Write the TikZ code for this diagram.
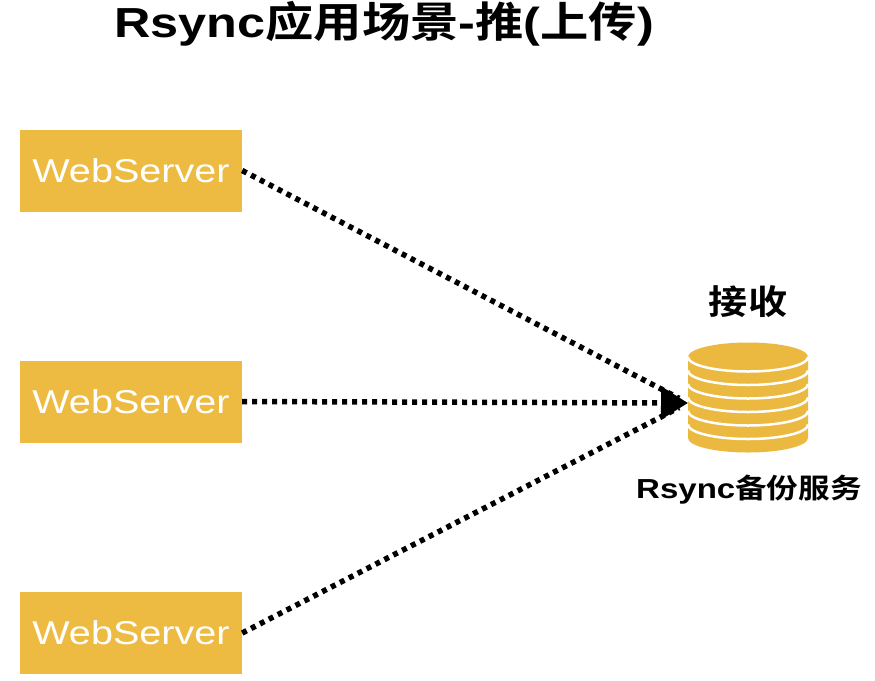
\documentclass[tikz,border=0pt]{standalone}
\usepackage{fontspec}
\setmainfont{Liberation Sans}[FakeStretch=1.2]
\newfontfamily\cjk{Noto Sans CJK SC}[BoldFont={Noto Sans CJK SC Bold},FakeStretch=1.15]
\usetikzlibrary{arrows.meta}
\definecolor{srvyellow}{RGB}{238,187,66}
\definecolor{dbyellow}{RGB}{236,185,64}

\begin{document}
\begin{tikzpicture}[x=1pt,y=-1pt,
  Server/.style = {fill=srvyellow, text=white, minimum width=222pt, minimum height=82pt,
                   inner sep=0pt, font=\fontsize{33}{33}\selectfont},
  Push/.style = {line width=5.5pt, dash pattern=on 5pt off 5pt, black}]
\useasboundingbox[fill=white] (0,0) rectangle (875,680);
\node[font=\fontsize{42}{42}\selectfont\bfseries] (title) at (384,24)
  {Rsync{\cjk 应用场景}-{\cjk 推}({\cjk 上传})};
\node[Server] (ws1) at (131,170.5) {WebServer};
\node[Server] (ws2) at (131,401.5) {WebServer};
\node[Server] (ws3) at (131,633) {WebServer};
% backup store
\fill[dbyellow] (688,357) -- (688,438) arc[start angle=180, end angle=0, x radius=60, y radius=14.5]
  -- (808,357) arc[start angle=0, end angle=-180, x radius=60, y radius=14.5] -- cycle;
\foreach \k in {0,...,5}
  \draw[white, line width=2.5pt] (688,357+13.5*\k) arc[start angle=180, end angle=0, x radius=60, y radius=14.5];
\coordinate (dbin) at (688,403);
\node[font=\fontsize{34}{34}\selectfont\cjk\bfseries] (recv) at (748,302) {接收};
\node[font=\fontsize{27.5}{27.5}\selectfont\bfseries] (dblabel) at (749,490) {Rsync{\cjk 备份服务}};
\draw[Push, shorten >=10pt] (ws1.east) -- (dbin);
\draw[Push, shorten >=10pt] (ws3.east) -- (dbin);
\draw[Push, -{Triangle[length=27pt,width=32pt]}] (ws2.east) -- (dbin);
\end{tikzpicture}
\end{document}
